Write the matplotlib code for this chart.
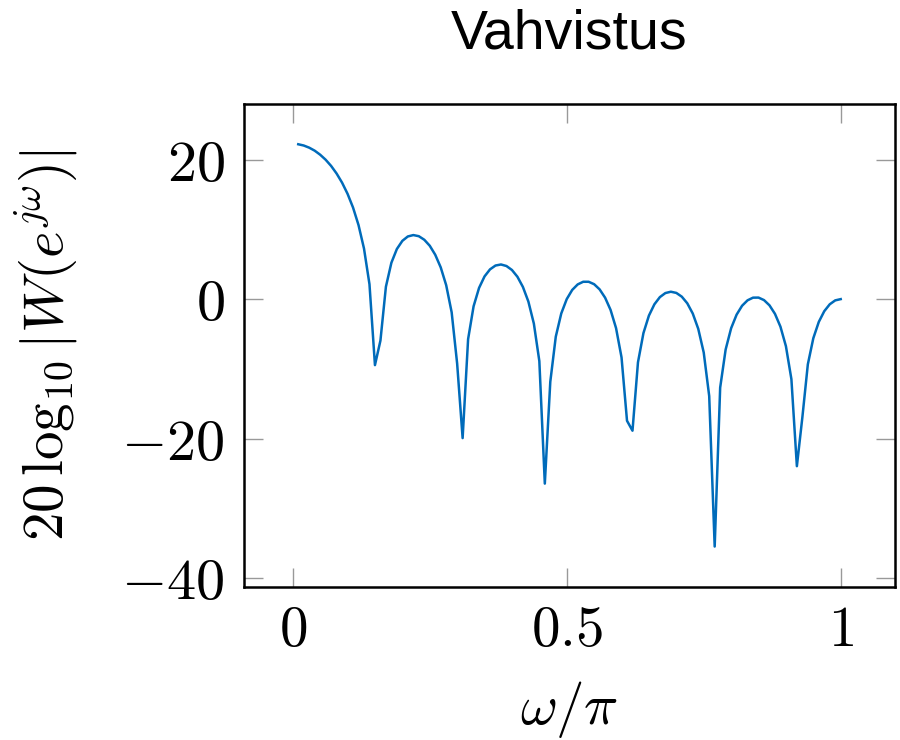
import numpy as np
import matplotlib
matplotlib.use("Agg")
import matplotlib.pyplot as plt

plt.rcParams['mathtext.fontset'] = 'cm'
plt.rcParams['font.family'] = ['Liberation Sans', 'DejaVu Sans']

# omega/pi sample points 0.01 ... 1.00
w = np.arange(1, 101) / 100

# gain in dB
gain_db = [
    22.22, 22.04, 21.73, 21.30, 20.72, 20.00, 19.11, 18.02, 16.71, 15.11,
    13.14, 10.63, 7.26, 2.14, -9.47, -5.95, 1.78, 5.22, 7.19, 8.36,
    8.99, 9.19, 9.03, 8.52, 7.66, 6.37, 4.56, 2.00, -1.90, -9.25,
    -19.94, -5.74, -1.03, 1.61, 3.26, 4.27, 4.82, 4.97, 4.75, 4.18,
    3.21, 1.75, -0.35, -3.51, -8.89, -26.47, -11.85, -5.39, -2.06, 0.00,
    1.32, 2.11, 2.49, 2.49, 2.14, 1.40, 0.21, -1.55, -4.16, -8.36,
    -17.45, -18.88, -9.07, -4.87, -2.36, -0.74, 0.29, 0.87, 1.06, 0.89,
    0.35, -0.60, -2.07, -4.26, -7.66, -13.91, -35.50, -12.70, -7.23, -4.18,
    -2.23, -0.95, -0.17, 0.21, 0.22, -0.14, -0.89, -2.11, -3.95, -6.75,
    -11.48, -23.97, -16.97, -9.36, -5.61, -3.27, -1.73, -0.74, -0.18, 0.00,
]

xticks = [0, 0.5, 1]
xticklabels = [r'$0$', r'$0.5$', r'$1$']
yticks = [-40, -20, 0, 20]
yticklabels = [r'$-40$', r'$-20$', r'$0$', r'$20$']

fig = plt.figure(figsize=(9, 7.4), dpi=100)
ax = fig.add_axes([0.2711, 0.2068, 0.7233, 0.6527])

ax.plot(w, gain_db, color=(0, 0.42, 0.73), lw=1.8, solid_joinstyle='round')

ax.set_xlim(-0.089, 1.099)
ax.set_ylim(-41.3, 28.0)

ax.set_xticks(xticks)
ax.set_xticklabels(xticklabels, fontsize=41)
ax.set_yticks(yticks)
ax.set_yticklabels(yticklabels, fontsize=42)
ax.tick_params(direction='in', length=14, width=1.0, color='0.6',
               top=True, right=True)
ax.tick_params(axis='x', pad=12)
ax.tick_params(axis='y', pad=14)

for s in ax.spines.values():
    s.set_linewidth(1.8)
    s.set_color('black')

ax.set_title('Vahvistus', fontsize=40, pad=40)
ax.set_xlabel(r'$\omega/\pi$', fontsize=41)
ax.set_ylabel(r'$20\,\log_{10}|W(e^{j\omega})|$', fontsize=41)
ax.xaxis.set_label_coords(0.5, -0.19)
ax.yaxis.set_label_coords(-0.25, 0.5)

fig.savefig('out.png', dpi=100)
